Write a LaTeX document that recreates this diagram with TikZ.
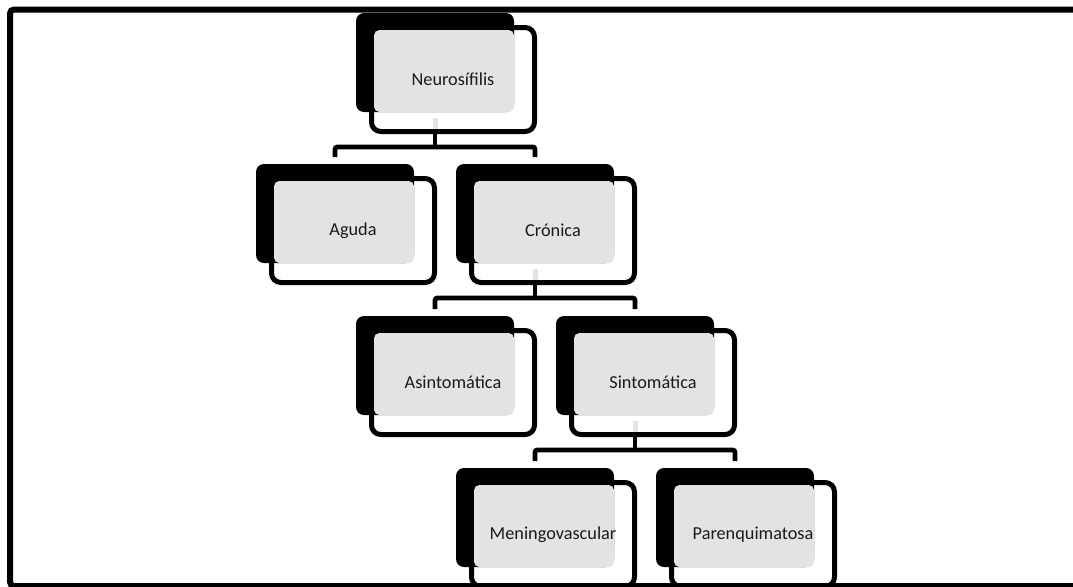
\documentclass[tikz,border=0pt]{standalone}
\usepackage{fontspec}
\setmainfont{Carlito}
\definecolor{boxgray}{HTML}{E3E3E3}
\definecolor{txtcol}{HTML}{1A1A1A}
\pgfdeclarelayer{bg}
\pgfsetlayers{bg,main}
\tikzset{
  wbox/.style={draw=black, fill=white, line width=3.75pt, rounded corners=7pt,
    minimum width=122.25pt, minimum height=78pt, inner sep=0pt, anchor=north west},
  shadowbox/.style={fill=black, rounded corners=6pt},
  graybox/.style={fill=boxgray, rounded corners=4pt},
  conn/.style={draw=black, line width=3.4pt, rounded corners=1.5pt},
  stub/.style={draw=boxgray, line width=3.75pt},
  txtlabel/.style={inner sep=0pt, text=txtcol, font=\fontsize{13.7pt}{16pt}\selectfont},
  frameline/.style={draw=black, line width=4.5pt, rounded corners=3pt}
}
\newcommand\smartnode[4]{%
  \node[wbox] (#1) at (#2+13,#3+12) {};
  \fill[shadowbox] (#2,#3) rectangle (#2+158,#3+99);
  \fill[graybox] (#2+18,#3+17) rectangle (#2+158,#3+99);
  \node[txtlabel] (#1-t) at (#1.center) {#4};
  \coordinate (#1-top) at (#2+79,#3-7);
  \coordinate (#1-bot) at (#2+79,#3+121);
  \coordinate (#1-bar) at (#2+79,#3+134);
  \coordinate (#1-s1) at (#2+79,#3+105);
  \coordinate (#1-s2) at (#2+79,#3+116);
}
\begin{document}
\begin{tikzpicture}[x=0.75pt,y=-0.75pt]
\useasboundingbox (0,0) rectangle (1073,586);
\clip (0,0) rectangle (1073,586);

\smartnode{n0}{356}{13}{Neurosífilis}
\smartnode{n1a}{256}{164}{Aguda}
\smartnode{n1b}{456}{164}{Crónica}
\smartnode{n2a}{356}{316}{Asintomática}
\smartnode{n2b}{556}{316}{Sintomática}
\smartnode{n3a}{456}{468}{Meningovascular}
\smartnode{n3b}{656}{468}{Parenquimatosa}

\draw[stub] (n0-s1) -- (n0-s2);
\draw[stub] (n1b-s1) -- (n1b-s2);
\draw[stub] (n2b-s1) -- (n2b-s2);

\begin{pgfonlayer}{bg}
\fill[white] (0,0) rectangle (1073,586);
\draw[conn] (n0-bot) -- (n0-bar);
\draw[conn] (n1a-top) |- (n0-bar) -| (n1b-top);
\draw[conn] (n1b-bot) -- (n1b-bar);
\draw[conn] (n2a-top) |- (n1b-bar) -| (n2b-top);
\draw[conn] (n2b-bot) -- (n2b-bar);
\draw[conn] (n3a-top) |- (n2b-bar) -| (n3b-top);
\end{pgfonlayer}

\draw[frameline] (10,9.5) rectangle (1085,586);
\end{tikzpicture}
\end{document}
